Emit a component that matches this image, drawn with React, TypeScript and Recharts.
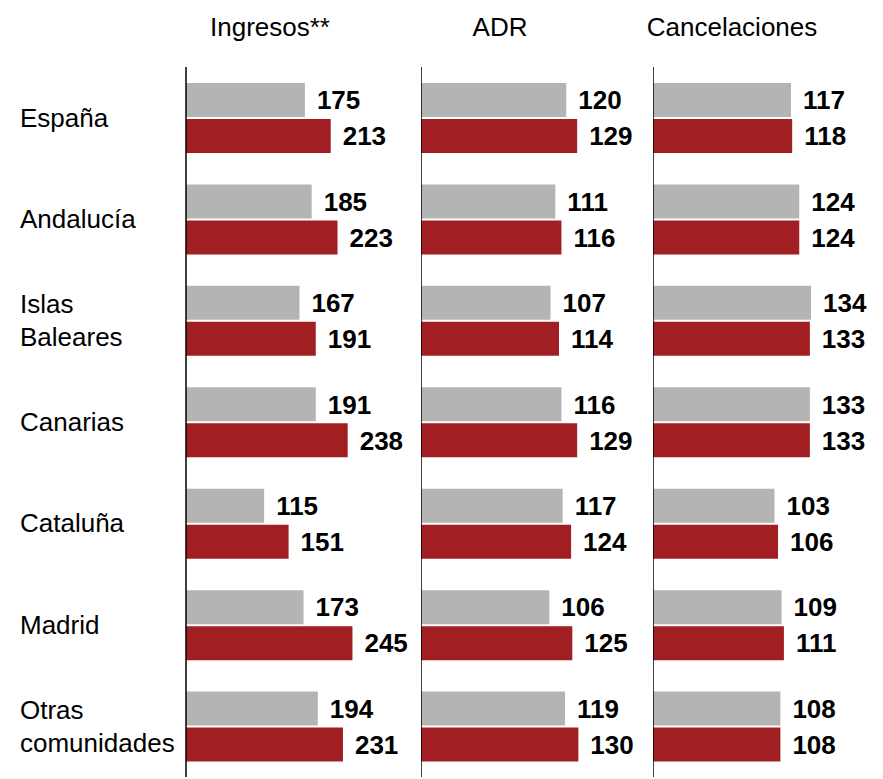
import { BarChart, Bar, XAxis, YAxis, LabelList, ReferenceLine } from "recharts";

const regions = [
  "España",
  "Andalucía",
  "Islas\nBaleares",
  "Canarias",
  "Cataluña",
  "Madrid",
  "Otras\ncomunidades",
];

const ingresosPrev = [175, 185, 167, 191, 115, 173, 194];
const ingresosCurr = [213, 223, 191, 238, 151, 245, 231];
const adrPrev = [120, 111, 107, 116, 117, 106, 119];
const adrCurr = [129, 116, 114, 129, 124, 125, 130];
const cancPrev = [117, 124, 134, 133, 103, 109, 108];
const cancCurr = [118, 124, 133, 133, 106, 111, 108];

const FONT = '"Liberation Sans", Arial, sans-serif';
const GRAY = "#b4b4b4";
const RED = "#a11f22";

const build = (prev: number[], curr: number[]) =>
  regions.map((region, i) => ({ region, prev: prev[i], curr: curr[i] }));

const RegionTick = (props: any) => {
  const { y, payload } = props;
  const lines = String(payload.value).split("\n");
  const step = 33;
  const start = y - ((lines.length - 1) * step) / 2;
  return (
    <text x={20} y={start} textAnchor="start" fontSize={26} fill="#000" fontFamily={FONT}>
      {lines.map((l, i) => (
        <tspan key={i} x={20} y={start + i * step} dominantBaseline="central">
          {l}
        </tspan>
      ))}
    </text>
  );
};

const labelStyle = { fontSize: 26, fontWeight: "bold", fill: "#000", fontFamily: FONT };

interface PanelProps {
  prev: number[];
  curr: number[];
  max: number;
  width: number;
  axisWidth: number;
  showTicks?: boolean;
}

function Panel({ prev, curr, max, width, axisWidth, showTicks }: PanelProps) {
  const data = build(prev, curr);
  return (
    <BarChart
      width={width}
      height={779}
      data={data}
      layout="vertical"
      margin={{ top: 67, right: 0, bottom: 2, left: 0 }}
      barSize={34}
      barGap={2}
    >
      <XAxis type="number" hide domain={[0, max]} />
      <YAxis
        type="category"
        dataKey="region"
        width={axisWidth}
        hide={!showTicks}
        axisLine={false}
        tickLine={false}
        tick={showTicks ? <RegionTick /> : false}
        interval={0}
      />
      <Bar dataKey="prev" fill={GRAY} isAnimationActive={false}>
        <LabelList dataKey="prev" position="right" offset={12} style={labelStyle} />
      </Bar>
      <Bar dataKey="curr" fill={RED} isAnimationActive={false}>
        <LabelList dataKey="curr" position="right" offset={12} style={labelStyle} />
      </Bar>
      <ReferenceLine x={0} stroke="#000" strokeWidth={1.5} />
    </BarChart>
  );
}

const titleStyle = (left: number, width: number): React.CSSProperties => ({
  position: "absolute",
  left,
  top: 12,
  width,
  textAlign: "center",
  fontSize: 26,
  fontFamily: FONT,
  color: "#000",
});

export default function App() {
  return (
    <div style={{ position: "absolute", left: 0, top: 0, width: 883, height: 779, background: "#fff" }}>
      <div style={titleStyle(170, 200)}>Ingresos**</div>
      <div style={titleStyle(400, 200)}>ADR</div>
      <div style={titleStyle(632, 200)}>Cancelaciones</div>

      <div style={{ position: "absolute", left: 0, top: 0 }}>
        <Panel prev={ingresosPrev} curr={ingresosCurr} max={340} width={417} axisWidth={186} showTicks />
      </div>
      <div style={{ position: "absolute", left: 421, top: 0 }}>
        <Panel prev={adrPrev} curr={adrCurr} max={190} width={230} axisWidth={0} />
      </div>
      <div style={{ position: "absolute", left: 653, top: 0 }}>
        <Panel prev={cancPrev} curr={cancCurr} max={195} width={230} axisWidth={0} />
      </div>
    </div>
  );
}
